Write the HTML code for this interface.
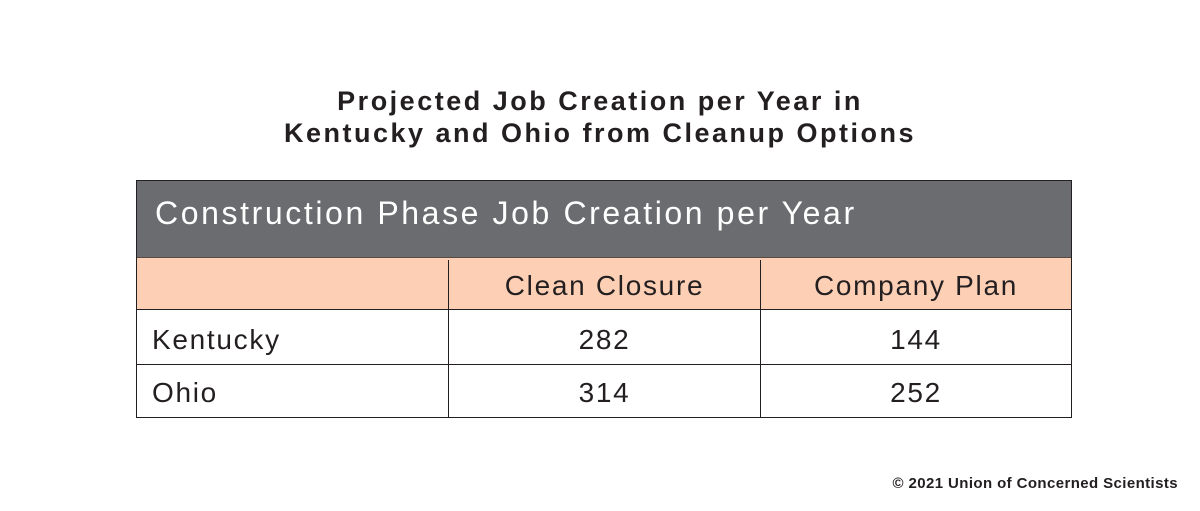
<!DOCTYPE html>
<html><head><meta charset="utf-8">
<style>
body{margin:0;width:1200px;height:511px;background:#fff;position:relative;font-family:"Liberation Sans",sans-serif;overflow:hidden}
.t{position:absolute;left:0;width:1200px;text-align:center;font-weight:bold;font-size:27px;color:#231f20;letter-spacing:2.5px}
.cell{position:absolute;box-sizing:border-box;display:flex;align-items:center;font-size:28px;color:#231f20;letter-spacing:1.7px}
.c{justify-content:center}
</style></head><body>
<div class="t" style="top:86px">Projected Job Creation per Year in</div>
<div class="t" style="top:118px">Kentucky and Ohio from Cleanup Options</div>
<div style="position:absolute;left:136px;top:180px;width:936px;height:238px;border:1px solid #231f20;box-sizing:border-box"></div>
<div class="cell" style="left:137px;top:181px;width:934px;height:76px;background:#6b6c70;color:#fff;font-size:32px;padding-left:18px;padding-bottom:12px;letter-spacing:2.6px">Construction Phase Job Creation per Year</div>
<div style="position:absolute;left:137px;top:257px;width:934px;height:53px;background:#fdd0b5;border-top:1px solid #5a4a40;border-bottom:1px solid #231f20;box-sizing:border-box"></div>
<div class="cell c" style="left:448px;top:260px;width:312px;height:52px;border-left:1px solid #231f20">Clean Closure</div>
<div class="cell c" style="left:760px;top:260px;width:311px;height:52px;border-left:1px solid #231f20">Company Plan</div>
<div style="position:absolute;left:137px;top:364px;width:934px;border-top:1px solid #231f20"></div>
<div style="position:absolute;left:448px;top:310px;height:107px;border-left:1px solid #231f20"></div>
<div style="position:absolute;left:760px;top:310px;height:107px;border-left:1px solid #231f20"></div>
<div class="cell" style="left:152px;top:313px;height:53px">Kentucky</div>
<div class="cell c" style="left:449px;top:313px;width:311px;height:53px">282</div>
<div class="cell c" style="left:761px;top:313px;width:310px;height:53px">144</div>
<div class="cell" style="left:152px;top:367px;height:52px">Ohio</div>
<div class="cell c" style="left:449px;top:367px;width:311px;height:52px">314</div>
<div class="cell c" style="left:761px;top:367px;width:310px;height:52px">252</div>
<div style="position:absolute;right:22px;top:475px;font-size:15px;font-weight:bold;color:#231f20;letter-spacing:0.4px">© 2021 Union of Concerned Scientists</div>
</body></html>
